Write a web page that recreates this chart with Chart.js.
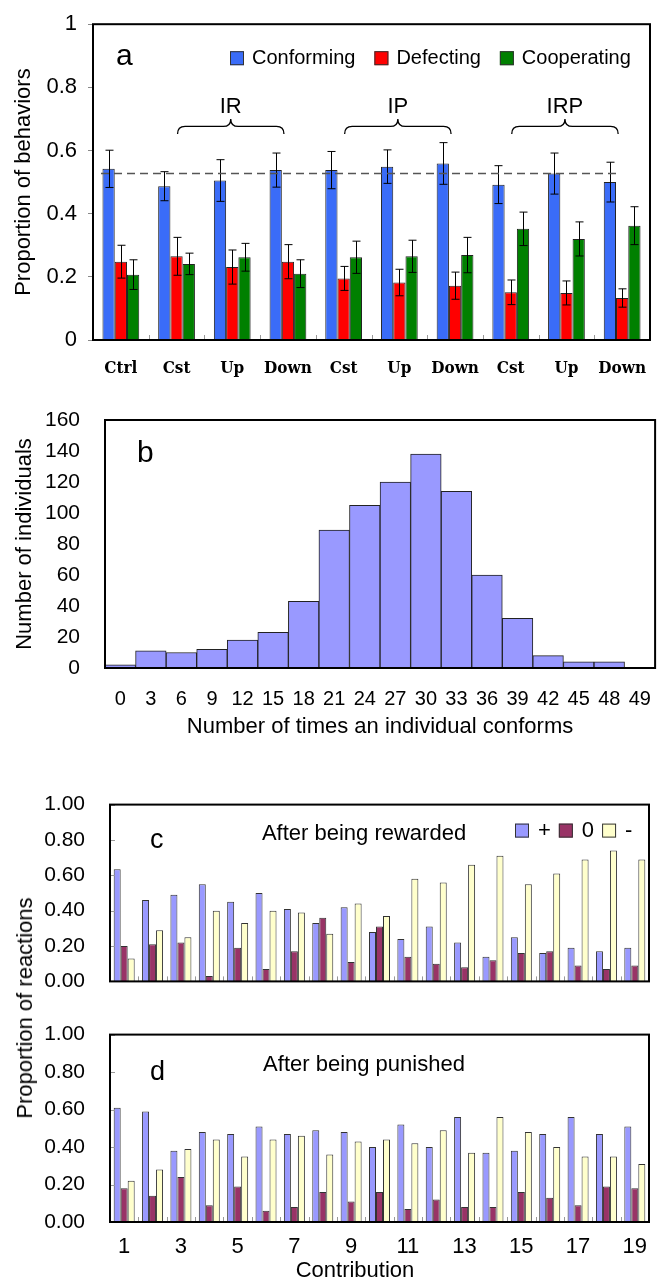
<!DOCTYPE html>
<html>
<head>
<meta charset="utf-8">
<script src="https://cdn.jsdelivr.net/npm/chart.js@4.4.0/dist/chart.umd.min.js"></script>
<style>
    html, body { margin: 0; padding: 0; background: #fff; }
    #page { position: relative; width: 662px; height: 1280px; overflow: hidden; }
    canvas { position: absolute; left: 0; }
    .ytitle {
        position: absolute;
        font: 22px 'Liberation Sans', Arial, sans-serif;
        white-space: nowrap;
        transform: translate(-50%, -50%) rotate(-90deg);
    }
</style>
</head>
<body>
<div id="page">
    <canvas id="chartA" width="662" height="380" style="top:0"></canvas>
    <canvas id="chartB" width="662" height="360" style="top:380px"></canvas>
    <canvas id="chartC" width="662" height="236" style="top:775px"></canvas>
    <canvas id="chartD" width="662" height="275" style="top:1005px"></canvas>
    <div class="ytitle" style="left:25px; top:1008px">Proportion of reactions</div>
</div>
<script>
// panel a - behaviours per treatment
const groupLabels = ['Ctrl', 'Cst', 'Up', 'Down', 'Cst', 'Up', 'Down', 'Cst', 'Up', 'Down'];
const conforming = [0.542, 0.487, 0.505, 0.538, 0.538, 0.549, 0.559, 0.492, 0.527, 0.50];
const conformingErr = [0.059, 0.046, 0.066, 0.054, 0.059, 0.053, 0.066, 0.06, 0.065, 0.063];
const defecting = [0.248, 0.265, 0.231, 0.248, 0.195, 0.182, 0.172, 0.151, 0.149, 0.133];
const defectingErr = [0.052, 0.06, 0.054, 0.054, 0.038, 0.042, 0.043, 0.039, 0.038, 0.029];
const cooperating = [0.207, 0.241, 0.262, 0.21, 0.262, 0.265, 0.269, 0.352, 0.32, 0.362];
const cooperatingErr = [0.047, 0.034, 0.044, 0.044, 0.051, 0.051, 0.056, 0.053, 0.054, 0.06];
const baselineLevel = 0.527;
const treatments = [
    { name: 'IR', from: 1, to: 3 },
    { name: 'IP', from: 4, to: 6 },
    { name: 'IRP', from: 7, to: 9 }
];

// panel b - histogram
const binLabels = ['0', '3', '6', '9', '12', '15', '18', '21', '24', '27', '30', '33', '36', '39', '42', '45', '48', '49'];
const individuals = [2, 11, 10, 12, 18, 23, 43, 89, 105, 120, 138, 114, 60, 32, 8, 4, 4, 0.5];

// panels c, d - reactions by contribution
const contributions = [1, 2, 3, 4, 5, 6, 7, 8, 9, 10, 11, 12, 13, 14, 15, 16, 17, 18, 19];
const rewardedPlus = [0.635, 0.46, 0.49, 0.55, 0.45, 0.50, 0.41, 0.33, 0.42, 0.28, 0.24, 0.31, 0.22, 0.14, 0.25, 0.16, 0.19, 0.17, 0.19];
const rewardedZero = [0.20, 0.21, 0.22, 0.03, 0.19, 0.07, 0.17, 0.36, 0.11, 0.31, 0.14, 0.10, 0.08, 0.12, 0.16, 0.17, 0.09, 0.07, 0.09];
const rewardedMinus = [0.13, 0.29, 0.25, 0.40, 0.33, 0.40, 0.39, 0.27, 0.44, 0.37, 0.58, 0.56, 0.66, 0.71, 0.55, 0.61, 0.69, 0.74, 0.69];
const punishedPlus = [0.61, 0.59, 0.38, 0.48, 0.47, 0.51, 0.47, 0.49, 0.48, 0.40, 0.52, 0.40, 0.56, 0.37, 0.38, 0.47, 0.56, 0.47, 0.51];
const punishedZero = [0.18, 0.14, 0.24, 0.09, 0.19, 0.06, 0.08, 0.16, 0.11, 0.16, 0.07, 0.12, 0.08, 0.08, 0.16, 0.13, 0.09, 0.19, 0.18];
const punishedMinus = [0.22, 0.28, 0.39, 0.44, 0.35, 0.44, 0.46, 0.36, 0.43, 0.44, 0.42, 0.49, 0.37, 0.56, 0.48, 0.40, 0.35, 0.35, 0.31];

const SANS = "'Liberation Sans', Arial, sans-serif";
const reactionColors = ['#9999ff', '#993366', '#ffffcc'];

Chart.defaults.font.family = SANS;
Chart.defaults.color = '#000';
Chart.defaults.animation = false;

// black box round the plot area, plus small inner ticks
Chart.register({
    id: 'frame',
    afterDraw(chart, args, opts) {
        var ctx = chart.ctx, a = chart.chartArea, xs = chart.scales.x, ys = chart.scales.y;
        ctx.save();
        ctx.strokeStyle = '#999';
        ctx.lineWidth = 1;
        ctx.beginPath();
        if (opts.innerTicks) {
            for (var i = 1; i < chart.data.labels.length; i++) {
                var px = Math.round((xs.getPixelForValue(i - 1) + xs.getPixelForValue(i)) / 2) + 0.5;
                ctx.moveTo(px, a.bottom);
                ctx.lineTo(px, a.bottom - 5);
            }
        }
        if (opts.innerYTicks) {
            ys.ticks.forEach(function (t) {
                var py = Math.round(ys.getPixelForValue(t.value)) + 0.5;
                ctx.moveTo(a.left, py);
                ctx.lineTo(a.left + 5, py);
            });
        }
        ctx.stroke();
        ctx.strokeStyle = '#000';
        ctx.lineWidth = 2;
        ctx.strokeRect(a.left, a.top, a.right - a.left, a.bottom - a.top);
        ctx.restore();
    }
});

// error bars for datasets that carry an errors array
Chart.register({
    id: 'errorBars',
    afterDatasetsDraw(chart) {
        var ctx = chart.ctx, y = chart.scales.y;
        ctx.save();
        ctx.strokeStyle = '#000';
        ctx.lineWidth = 1;
        chart.data.datasets.forEach(function (ds, i) {
            if (!ds.errors) return;
            chart.getDatasetMeta(i).data.forEach(function (bar, j) {
                var top = y.getPixelForValue(ds.data[j] + ds.errors[j]);
                var bot = y.getPixelForValue(ds.data[j] - ds.errors[j]);
                var x = Math.round(bar.x) + 0.5;
                ctx.beginPath();
                ctx.moveTo(x, top); ctx.lineTo(x, bot);
                ctx.moveTo(x - 4, top); ctx.lineTo(x + 4, top);
                ctx.moveTo(x - 4, bot); ctx.lineTo(x + 4, bot);
                ctx.stroke();
            });
        });
        ctx.restore();
    }
});

function drawBrace(ctx, x1, x2, yTop, h) {
    var xm = (x1 + x2) / 2, r = h / 2;
    ctx.beginPath();
    ctx.moveTo(x1, yTop + h);
    ctx.quadraticCurveTo(x1, yTop + r, x1 + r, yTop + r);
    ctx.lineTo(xm - r, yTop + r);
    ctx.quadraticCurveTo(xm, yTop + r, xm, yTop);
    ctx.quadraticCurveTo(xm, yTop + r, xm + r, yTop + r);
    ctx.lineTo(x2 - r, yTop + r);
    ctx.quadraticCurveTo(x2, yTop + r, x2, yTop + h);
    ctx.stroke();
}

function drawLegend(ctx, items, x, yMid, box, font, gapText, gapItem) {
    ctx.font = font;
    ctx.textBaseline = 'middle';
    ctx.textAlign = 'left';
    items.forEach(function (it) {
        ctx.fillStyle = it.color;
        ctx.fillRect(x, yMid - box / 2, box, box);
        ctx.strokeStyle = '#333';
        ctx.lineWidth = 1;
        ctx.strokeRect(x + 0.5, yMid - box / 2 + 0.5, box - 1, box - 1);
        ctx.fillStyle = '#000';
        ctx.fillText(it.text, x + box + gapText, yMid);
        x += box + gapText + ctx.measureText(it.text).width + gapItem;
    });
}

// ---------- panel a ----------
new Chart(document.getElementById('chartA'), {
    type: 'bar',
    data: {
        labels: groupLabels,
        datasets: [
            { label: 'Conforming', data: conforming, errors: conformingErr, backgroundColor: '#3a6cf8' },
            { label: 'Defecting', data: defecting, errors: defectingErr, backgroundColor: '#ff0000' },
            { label: 'Cooperating', data: cooperating, errors: cooperatingErr, backgroundColor: '#008000' }
        ]
    },
    options: {
        responsive: false,
        layout: { padding: { top: 15, right: 12, bottom: 0, left: 0 } },
        datasets: { bar: { categoryPercentage: 0.66, barPercentage: 1, borderWidth: 1, borderColor: '#222' } },
        plugins: { legend: { display: false }, tooltip: { enabled: false }, frame: { innerTicks: true } },
        scales: {
            x: {
                grid: { display: false },
                border: { display: false },
                ticks: { padding: 10, font: { family: "'DejaVu Serif Condensed', 'Liberation Serif', serif", weight: 'bold', size: 17 } },
                afterFit: function (s) { s.height = 40; }
            },
            y: {
                min: 0, max: 1,
                ticks: { stepSize: 0.2, padding: 11, font: { size: 22 }, callback: function (v) { return +v.toFixed(1); } },
                grid: { drawOnChartArea: false, tickLength: 5, color: '#888' },
                border: { display: false },
                title: { display: true, text: 'Proportion of behaviors', font: { size: 22 }, padding: { top: 11, bottom: 0 } },
                afterFit: function (s) { s.width = 93; }
            }
        }
    },
    plugins: [{
        id: 'panelA',
        afterDatasetsDraw(chart) {
            var ctx = chart.ctx, a = chart.chartArea, x = chart.scales.x, y = chart.scales.y;
            ctx.save();
            var yl = y.getPixelForValue(baselineLevel);
            ctx.strokeStyle = '#555';
            ctx.lineWidth = 1.5;
            ctx.setLineDash([8, 5]);
            ctx.beginPath();
            ctx.moveTo(a.left + 8, yl);
            ctx.lineTo(a.right - 30, yl);
            ctx.stroke();
            ctx.setLineDash([]);

            ctx.strokeStyle = '#000';
            ctx.lineWidth = 1.3;
            ctx.fillStyle = '#000';
            ctx.font = '22px ' + SANS;
            ctx.textAlign = 'center';
            ctx.textBaseline = 'alphabetic';
            var yb = y.getPixelForValue(0.70);
            treatments.forEach(function (t) {
                var x1 = x.getPixelForValue(t.from) + 1, x2 = x.getPixelForValue(t.to) - 4;
                drawBrace(ctx, x1, x2, yb, 15);
                ctx.fillText(t.name, (x1 + x2) / 2, yb - 6);
            });

            ctx.font = '30px ' + SANS;
            ctx.textAlign = 'left';
            ctx.fillText('a', a.left + 23, a.top + 41);

            drawLegend(ctx, chart.data.datasets.map(function (d) {
                return { text: d.label, color: d.backgroundColor };
            }), 230, a.top + 34, 14, '20px ' + SANS, 8, 19);
            ctx.restore();
        }
    }]
});

// ---------- panel b ----------
new Chart(document.getElementById('chartB'), {
    type: 'bar',
    data: {
        labels: binLabels,
        datasets: [{ data: individuals, backgroundColor: '#9999ff', borderColor: '#222', borderWidth: 1 }]
    },
    options: {
        responsive: false,
        layout: { padding: { top: 40, right: 2, bottom: 0, left: 0 } },
        datasets: { bar: { categoryPercentage: 1, barPercentage: 1 } },
        plugins: { legend: { display: false }, tooltip: { enabled: false } },
        scales: {
            x: {
                grid: { display: false },
                border: { display: false },
                ticks: { padding: 11, font: { size: 20 }, autoSkip: false, maxRotation: 0 },
                title: { display: true, text: 'Number of times an individual conforms', font: { size: 22 }, padding: { top: 0, bottom: 0 } },
                afterFit: function (s) { s.height = 72; }
            },
            y: {
                min: 0, max: 160,
                ticks: { stepSize: 20, padding: 17, font: { size: 21 } },
                grid: { display: false },
                border: { display: false },
                title: { display: true, text: 'Number of individuals', font: { size: 22 }, padding: { top: 12, bottom: 0 } },
                afterFit: function (s) { s.width = 105; }
            }
        }
    },
    plugins: [{
        id: 'panelB',
        afterDraw(chart) {
            var ctx = chart.ctx, a = chart.chartArea;
            ctx.save();
            ctx.fillStyle = '#000';
            ctx.font = '30px ' + SANS;
            ctx.textAlign = 'left';
            ctx.fillText('b', a.left + 32, a.top + 42);
            ctx.restore();
        }
    }]
});

// ---------- panels c and d ----------
function reactionChart(id, plus, zero, minus, opts) {
    return new Chart(document.getElementById(id), {
        type: 'bar',
        data: {
            labels: contributions,
            datasets: [
                { label: '+', data: plus, backgroundColor: reactionColors[0] },
                { label: '0', data: zero, backgroundColor: reactionColors[1] },
                { label: '-', data: minus, backgroundColor: reactionColors[2] }
            ]
        },
        options: {
            responsive: false,
            layout: { padding: opts.padding },
            datasets: { bar: { categoryPercentage: 0.74, barPercentage: 1, borderWidth: 1, borderColor: '#333' } },
            plugins: { legend: { display: false }, tooltip: { enabled: false }, frame: { innerTicks: true, innerYTicks: true } },
            scales: {
                x: {
                    display: opts.showX,
                    grid: { display: false },
                    border: { display: false },
                    ticks: {
                        display: opts.showX,
                        padding: 4, font: { size: 22 }, autoSkip: false, maxRotation: 0,
                        callback: function (v, i) { return contributions[i] % 2 === 1 ? contributions[i] : ''; }
                    },
                    afterFit: function (s) { s.height = opts.showX ? 58 : 0; }
                },
                y: {
                    min: 0, max: 1,
                    ticks: { stepSize: 0.2, padding: 17, font: { size: 21 }, autoSkip: false, callback: function (v) { return v.toFixed(2); } },
                    grid: { display: false },
                    border: { display: false },
                    afterFit: function (s) { s.width = 110; }
                }
            }
        },
        plugins: [{
            id: 'notes',
            afterDraw(chart) {
                var ctx = chart.ctx, a = chart.chartArea;
                ctx.save();
                ctx.fillStyle = '#000';
                ctx.textBaseline = 'alphabetic';
                ctx.font = '27px ' + SANS;
                ctx.textAlign = 'left';
                ctx.fillText(opts.letter, 150, a.top + opts.letterDy);
                ctx.font = '22px ' + SANS;
                ctx.textAlign = 'center';
                ctx.fillText(opts.title, 364, a.top + opts.titleDy);
                if (opts.legend) {
                    drawLegend(ctx, chart.data.datasets.map(function (d) {
                        return { text: d.label, color: d.backgroundColor };
                    }), 515, a.top + 26, 14, '22px ' + SANS, 9, 8);
                }
                if (opts.xTitle) {
                    ctx.font = '22px ' + SANS;
                    ctx.textAlign = 'center';
                    ctx.textBaseline = 'alphabetic';
                    ctx.fillText(opts.xTitle, 355, chart.height - 3);
                }
                ctx.restore();
            }
        }]
    });
}

reactionChart('chartC', rewardedPlus, rewardedZero, rewardedMinus, {
    padding: { top: 20, right: 13, bottom: 10, left: 0 },
    showX: false,
    letter: 'c', letterDy: 43,
    title: 'After being rewarded', titleDy: 35,
    legend: true
});

reactionChart('chartD', punishedPlus, punishedZero, punishedMinus, {
    padding: { top: 17, right: 13, bottom: 0, left: 0 },
    showX: true,
    letter: 'd', letterDy: 45,
    title: 'After being punished', titleDy: 36,
    legend: false,
    xTitle: 'Contribution'
});
</script>
</body>
</html>
